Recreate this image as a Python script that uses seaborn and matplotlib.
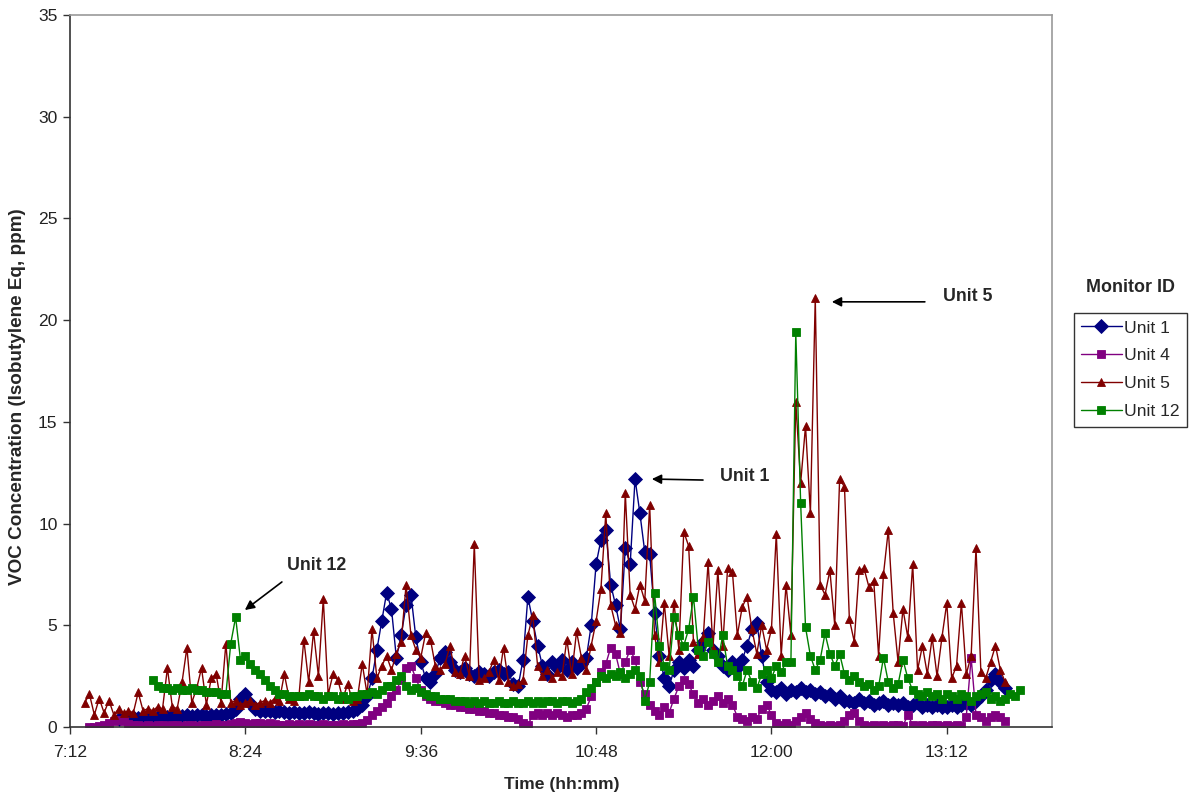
import numpy as np
import pandas as pd
import matplotlib
matplotlib.use("Agg")
import matplotlib.pyplot as plt
import seaborn as sns

# readings every 2 minutes, times in minutes after midnight
step_min = 2
unit1_start = 452   # 7:32
unit4_start = 440   # 7:20
unit5_start = 438   # 7:18
unit12_start = 466  # 7:46

unit1 = [
    0.4, 0.45, 0.45, 0.5, 0.45, 0.5, 0.5, 0.45, 0.5, 0.5,
    0.5, 0.55, 0.5, 0.55, 0.6, 0.55, 0.6, 0.6, 0.55, 0.6,
    0.6, 0.6, 0.65, 0.7, 0.9, 1.4, 1.6, 1.2, 0.9, 0.8,
    0.8, 0.8, 0.75, 0.8, 0.75, 0.7, 0.75, 0.7, 0.7, 0.75,
    0.7, 0.65, 0.7, 0.7, 0.65, 0.7, 0.7, 0.75, 0.8, 0.9,
    1.1, 1.5, 2.4, 3.8, 5.2, 6.6, 5.8, 3.4, 4.5, 6.0,
    6.5, 4.4, 3.2, 2.4, 2.2, 2.6, 3.4, 3.7, 3.2, 2.8,
    2.7, 2.9, 2.6, 2.5, 2.7, 2.6, 2.5, 2.7, 2.8, 2.6,
    2.7, 2.1, 2.0, 3.3, 6.4, 5.2, 4.0, 3.0, 2.6, 3.2,
    2.9, 3.3, 2.8, 3.2, 2.9, 3.1, 3.4, 5.0, 8.0, 9.2,
    9.7, 7.0, 6.0, 4.8, 8.8, 8.0, 12.2, 10.5, 8.6, 8.5,
    5.6, 3.5, 2.4, 2.0, 2.8, 3.2, 2.9, 3.3, 3.0, 3.8,
    4.2, 4.6, 3.8, 3.5, 3.0, 2.8, 3.2, 2.9, 3.3, 4.0,
    4.8, 5.1, 3.5, 2.2, 1.8, 1.7, 1.9, 1.6, 1.8, 1.7,
    1.9, 1.7, 1.8, 1.6, 1.7, 1.5, 1.6, 1.4, 1.5, 1.3,
    1.3, 1.2, 1.4, 1.2, 1.3, 1.1, 1.2, 1.3, 1.1, 1.2,
    1.1, 1.2, 1.0, 1.1, 1.2, 1.0, 1.1, 1.0, 1.1, 1.0,
    1.0, 1.1, 1.0, 1.1, 1.2, 1.1, 1.3, 1.5, 1.8, 2.3, 2.6, 2.2, 1.9,
]

unit4 = [
    0.0, 0.0, 0.05, 0.1, 0.2, 0.3, 0.35, 0.3, 0.15, 0.1,
    0.1, 0.05, 0.1, 0.05, 0.1, 0.1, 0.05, 0.1, 0.1, 0.05,
    0.1, 0.1, 0.05, 0.1, 0.1, 0.1, 0.15, 0.1, 0.1, 0.15,
    0.2, 0.25, 0.2, 0.15, 0.2, 0.2, 0.15, 0.2, 0.15, 0.1,
    0.1, 0.15, 0.1, 0.15, 0.1, 0.15, 0.1, 0.1, 0.15, 0.1,
    0.1, 0.1, 0.15, 0.1, 0.15, 0.15, 0.2, 0.35, 0.6, 0.8,
    1.0, 1.2, 1.5, 1.8, 2.3, 2.9, 3.0, 2.4, 1.8, 1.5,
    1.4, 1.3, 1.3, 1.2, 1.1, 1.1, 1.0, 1.0, 0.9, 0.9,
    0.8, 0.8, 0.7, 0.7, 0.6, 0.6, 0.5, 0.5, 0.4, 0.2,
    0.1, 0.6, 0.7, 0.6, 0.7, 0.6, 0.7, 0.6, 0.5, 0.6,
    0.6, 0.7, 0.9, 1.5, 2.2, 2.7, 3.1, 3.9, 3.6, 2.6,
    3.2, 3.8, 3.3, 2.2, 1.6, 1.1, 0.8, 0.6, 1.0, 0.7,
    1.4, 2.0, 2.3, 2.1, 1.6, 1.2, 1.4, 1.1, 1.3, 1.5,
    1.2, 1.4, 1.1, 0.5, 0.4, 0.3, 0.5, 0.4, 0.9, 1.1,
    0.6, 0.2, 0.1, 0.2, 0.1, 0.3, 0.5, 0.7, 0.4, 0.2,
    0.1, 0.05, 0.1, 0.05, 0.1, 0.3, 0.6, 0.7, 0.3, 0.1,
    0.05, 0.1, 0.05, 0.1, 0.05, 0.1, 0.1, 0.05, 0.6, 0.1,
    0.05, 0.1, 0.05, 0.1, 0.1, 0.05, 0.1, 0.05, 0.1, 0.05,
    0.5, 3.4, 0.6, 0.5, 0.3, 0.5, 0.6, 0.5, 0.3,
]

unit5 = [
    1.2, 1.6, 0.6, 1.4, 0.7, 1.3, 0.6, 0.9, 0.7, 0.8,
    0.7, 1.7, 0.8, 0.9, 0.8, 1.0, 0.9, 2.9, 1.0, 0.9,
    2.2, 3.9, 1.2, 1.9, 2.9, 1.1, 2.4, 2.6, 1.2, 4.1,
    1.2, 1.3, 1.1, 1.2, 1.3, 1.1, 1.2, 1.3, 1.2, 1.4,
    1.3, 2.6, 1.4, 1.3, 1.5, 4.3, 2.2, 4.7, 2.5, 6.3,
    1.6, 2.6, 2.3, 1.4, 2.1, 1.3, 1.4, 3.1, 1.6, 4.8,
    2.4, 3.0, 3.5, 2.8, 3.6, 4.2, 7.0, 4.5, 3.8, 3.4,
    4.6, 4.3, 3.0, 2.8, 3.1, 4.0, 2.7, 2.6, 3.5, 2.5,
    9.0, 2.3, 2.4, 2.7, 3.3, 2.3, 3.9, 2.2, 2.0, 2.1,
    2.3, 4.5, 5.5, 3.0, 2.5, 2.8, 2.4, 2.7, 2.5, 4.3,
    2.6, 4.7, 3.4, 2.8, 4.0, 5.2, 6.8, 10.5, 6.0, 5.0,
    4.6, 11.5, 6.5, 5.8, 7.0, 6.2, 10.9, 4.5, 3.2, 6.1,
    3.5, 6.1, 3.8, 9.6, 8.9, 4.2, 3.6, 4.4, 8.1, 3.9,
    7.7, 4.0, 7.8, 7.6, 4.5, 5.9, 6.4, 4.8, 3.6, 5.0,
    3.8, 4.8, 9.5, 3.5, 7.0, 4.5, 16.0, 12.0, 14.8, 10.5,
    21.1, 7.0, 6.5, 7.7, 5.0, 12.2, 11.8, 5.3, 4.2, 7.7,
    7.8, 6.9, 7.2, 3.5, 7.5, 9.7, 5.6, 3.2, 5.8, 4.4,
    8.0, 2.8, 4.0, 2.6, 4.4, 2.5, 4.4, 6.1, 2.4, 3.0,
    6.1, 2.6, 3.5, 8.8, 2.7, 2.4, 3.2, 4.0, 2.8, 2.2,
]

unit12 = [
    2.3, 2.0, 1.9, 1.9, 1.8, 1.9, 1.8, 1.8, 1.9, 1.8,
    1.8, 1.7, 1.7, 1.7, 1.6, 1.6, 4.1, 5.4, 3.3, 3.5,
    3.1, 2.8, 2.6, 2.3, 2.0, 1.8, 1.6, 1.6, 1.5, 1.5,
    1.5, 1.5, 1.6, 1.5, 1.5, 1.4, 1.5, 1.5, 1.4, 1.5,
    1.4, 1.5, 1.5, 1.6, 1.6, 1.7, 1.6, 1.8, 2.0, 2.0,
    2.3, 2.5, 2.0, 1.8, 1.9, 1.7, 1.6, 1.5, 1.5, 1.4,
    1.4, 1.4, 1.3, 1.3, 1.3, 1.2, 1.3, 1.2, 1.3, 1.2,
    1.2, 1.3, 1.2, 1.2, 1.3, 1.2, 1.2, 1.3, 1.2, 1.3,
    1.2, 1.3, 1.3, 1.2, 1.3, 1.3, 1.2, 1.3, 1.4, 1.7,
    1.9, 2.2, 2.5, 2.4, 2.6, 2.5, 2.7, 2.4, 2.6, 2.8,
    2.5, 1.3, 2.2, 6.6, 4.0, 3.0, 2.8, 5.4, 4.5, 4.0,
    4.8, 6.4, 3.8, 3.5, 4.2, 3.6, 3.2, 4.5, 3.0, 2.8,
    2.5, 2.0, 2.8, 2.2, 1.9, 2.6, 2.8, 2.4, 3.0, 2.7,
    3.2, 3.2, 19.4, 11.0, 4.9, 3.5, 2.8, 3.3, 4.6, 3.6,
    3.0, 3.6, 2.6, 2.3, 2.5, 2.2, 2.0, 2.1, 1.8, 2.0,
    3.4, 2.2, 1.9, 2.1, 3.3, 2.4, 1.8, 1.6, 1.5, 1.7,
    1.5, 1.6, 1.4, 1.6, 1.5, 1.4, 1.6, 1.5, 1.3, 1.5,
    1.6, 1.7, 1.4, 1.5, 1.3, 1.4, 1.6, 1.5, 1.8,
]

monitors = ["Unit 1", "Unit 4", "Unit 5", "Unit 12"]
xtick_pos = [432, 504, 576, 648, 720, 792]
xtick_labels = ["7:12", "8:24", "9:36", "10:48", "12:00", "13:12"]

frames = []
for name, start, vals in zip(monitors,
                             [unit1_start, unit4_start, unit5_start, unit12_start],
                             [unit1, unit4, unit5, unit12]):
    frames.append(pd.DataFrame({"time": start + step_min * np.arange(len(vals)),
                                "voc": vals, "monitor": name}))
df = pd.concat(frames, ignore_index=True)

styles = {
    "Unit 1": dict(color="#000080", marker="D", markersize=7.5),
    "Unit 4": dict(color="#800080", marker="s", markersize=5.5),
    "Unit 5": dict(color="#800000", marker="^", markersize=5.5),
    "Unit 12": dict(color="#008000", marker="s", markersize=5.5),
}

sns.set_style("white")
plt.rcParams["font.family"] = ["Liberation Sans", "DejaVu Sans"]

fig = plt.figure(figsize=(12.02, 8.01), dpi=100)
ax = fig.add_axes([70 / 1202, 74 / 801, 982 / 1202, 712 / 801])

for name in monitors:
    st = styles[name]
    sns.lineplot(data=df[df["monitor"] == name], x="time", y="voc", ax=ax,
                 label=name, estimator=None, sort=False,
                 color=st["color"], marker=st["marker"],
                 markersize=st["markersize"], markeredgecolor=st["color"],
                 markeredgewidth=0.6, linewidth=1.0)

ax.set_xlim(432, 835.2)
ax.set_ylim(0, 35)
ax.set_xticks(xtick_pos, xtick_labels)
ax.set_yticks(range(0, 36, 5))
ax.set_xlabel("")
ax.set_ylabel("")
ax.tick_params(direction="out", length=5, width=1, color="#333333",
               labelsize=12.6, labelcolor="#222222", left=True, bottom=True)
ax.tick_params(axis="x", pad=8)
ax.tick_params(axis="y", pad=4)
for side in ["left", "bottom"]:
    ax.spines[side].set_color("#333333")
    ax.spines[side].set_linewidth(1.2)
for side in ["top", "right"]:
    ax.spines[side].set_color("#9a9a9a")
    ax.spines[side].set_linewidth(1.2)

fig.text(562 / 1202, 1 - 785 / 801, "Time (hh:mm)", ha="center", va="center",
         fontsize=12.6, fontweight="bold")
fig.text(18 / 1202, 1 - 397 / 801, "VOC Concentration (Isobutylene Eq, ppm)",
         ha="center", va="center", rotation=90, fontsize=13.6, fontweight="bold")

# callouts
arrow = dict(arrowstyle="-|>", color="black", lw=1.2, mutation_scale=14,
             shrinkA=0, shrinkB=0)
ax.annotate("", xy=(503.8, 5.75), xytext=(519.0, 7.13), arrowprops=arrow)
ax.text(533.4, 7.96, "Unit 12", ha="center", va="center", fontsize=12.8, fontweight="bold")
ax.annotate("", xy=(670.9, 12.19), xytext=(691.9, 12.14), arrowprops=arrow)
ax.text(698.8, 12.29, "Unit 1", ha="left", va="center", fontsize=12.8, fontweight="bold")
ax.annotate("", xy=(744.8, 20.9), xytext=(783.0, 20.9), arrowprops=arrow)
ax.text(790.4, 21.14, "Unit 5", ha="left", va="center", fontsize=12.8, fontweight="bold")

handles, labels = ax.get_legend_handles_labels()
if ax.get_legend() is not None:
    ax.get_legend().remove()
leg = fig.legend(handles, labels, loc="upper left",
                 bbox_to_anchor=(1074 / 1202, 1 - 313 / 801),
                 bbox_transform=fig.transFigure, frameon=True, fancybox=False,
                 edgecolor="black", fontsize=12.6, handlelength=2.3,
                 labelspacing=0.72, borderpad=0.42, handletextpad=0.15,
                 borderaxespad=0)
leg.get_frame().set_linewidth(1.0)
fig.text(1131 / 1202, 1 - 288 / 801, "Monitor ID", ha="center", va="center",
         fontsize=12.9, fontweight="bold")

fig.savefig("out.png", dpi=100, facecolor="white")
